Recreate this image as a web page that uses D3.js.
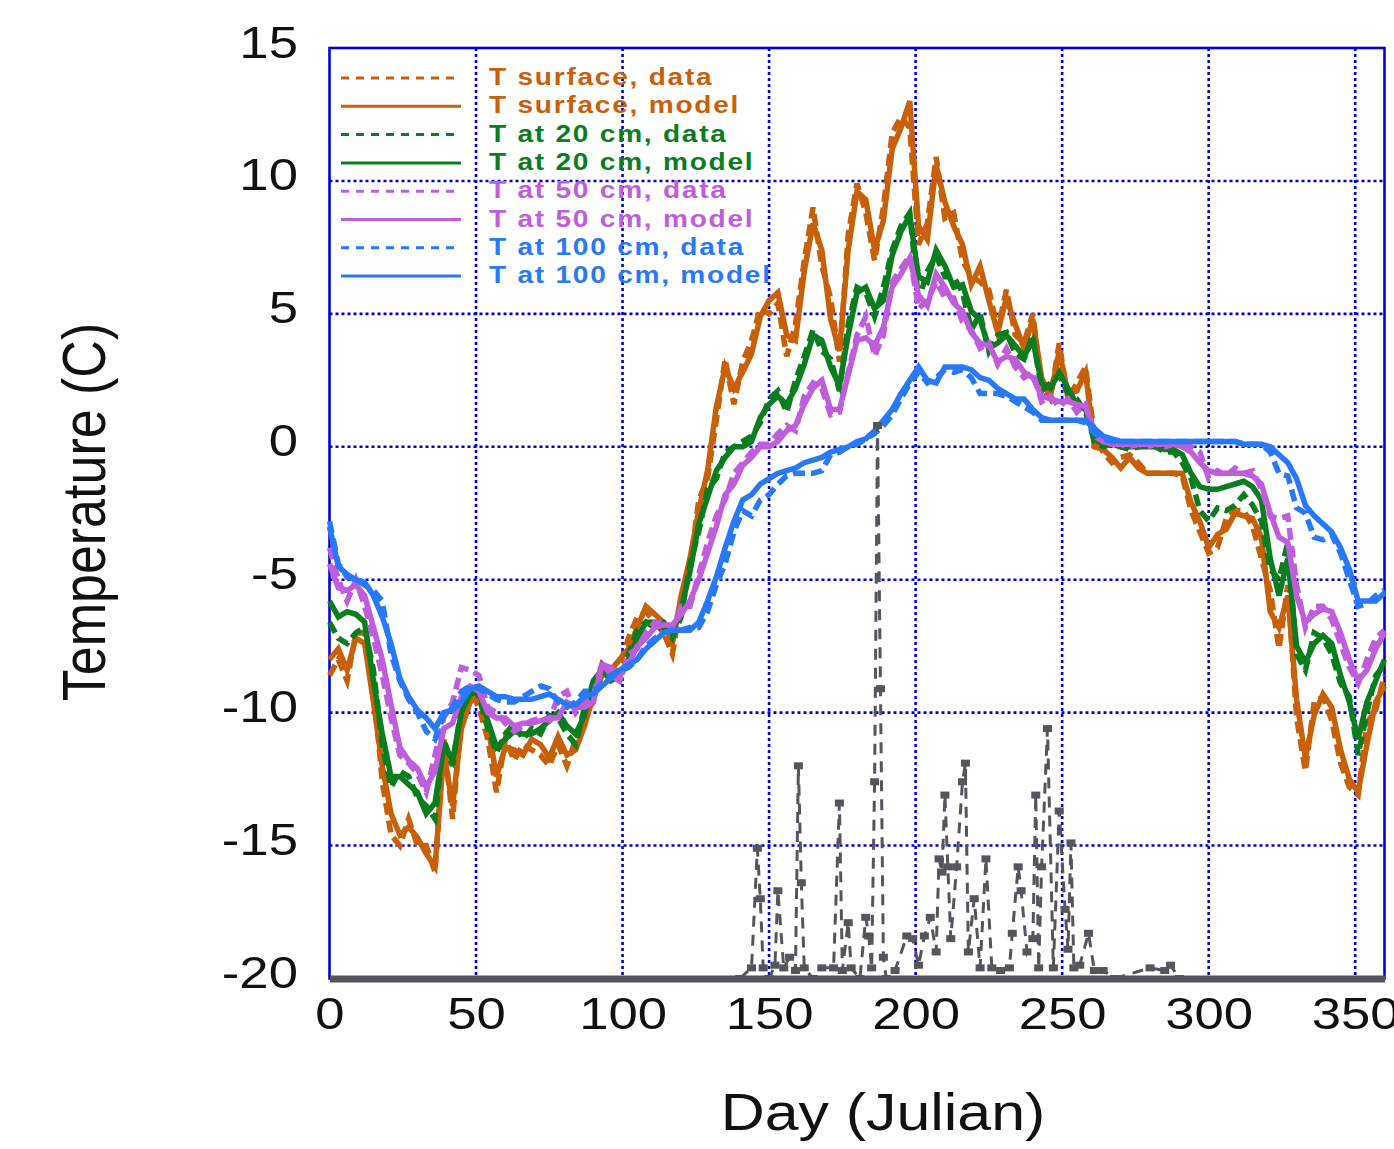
<!DOCTYPE html>
<html>
<head>
<meta charset="utf-8">
<title>Soil temperature, data and model</title>
<script src="https://cdn.jsdelivr.net/npm/d3@7"></script>
<style>
  body { margin: 0; background: #fff; }
  svg { display: block; }
</style>
</head>
<body>
<div id="chart"></div>
<script>
// Julian day of each temperature sample
const days = [
  0, 3, 6, 9, 12, 15, 18, 21, 24, 27,
  30, 33, 36, 39, 42, 45, 48, 51, 54, 57,
  60, 63, 66, 69, 72, 75, 78, 81, 84, 87,
  90, 93, 96, 99, 102, 105, 108, 111, 114, 117,
  120, 123, 126, 129, 132, 135, 138, 141, 144, 147,
  150, 153, 156, 159, 162, 165, 168, 171, 174, 177,
  180, 183, 186, 189, 192, 195, 198, 201, 204, 207,
  210, 213, 216, 219, 222, 225, 228, 231, 234, 237,
  240, 243, 246, 249, 252, 255, 258, 261, 264, 267,
  270, 273, 276, 279, 282, 285, 288, 291, 294, 297,
  300, 303, 306, 309, 312, 315, 318, 321, 324, 327,
  330, 333, 336, 339, 342, 345, 348, 351, 354, 357,
  360
];

const surfaceData = [
  -8.6, -8.0, -8.8, -7.0, -7.0, -9.0, -12.6, -14.6, -15.0, -14.0,
  -15.0, -15.0, -16.0, -11.0, -14.0, -10.2, -9.2, -9.8, -11.0, -13.0,
  -11.0, -11.8, -11.2, -11.4, -11.6, -12.0, -11.2, -12.0, -11.0, -10.2,
  -9.6, -8.2, -8.6, -8.2, -7.2, -6.4, -6.2, -6.6, -7.0, -7.8,
  -5.8, -4.6, -2.0, -1.2, 1.0, 3.3, 1.6, 3.2, 4.0, 5.2,
  5.0, 5.4, 3.4, 4.6, 7.0, 9.0, 6.8, 5.6, 3.2, 8.0,
  9.9, 8.8, 7.0, 9.0, 11.8, 12.4, 12.0, 7.6, 8.4, 10.9,
  8.6, 8.8, 7.0, 6.4, 6.2, 5.9, 4.4, 5.9, 4.2, 3.9,
  5.0, 2.2, 1.8, 3.9, 1.8, 2.4, 3.0, 0.4, -0.2, -0.6,
  -0.4, -0.3, -0.6, -1.0, -1.0, -1.0, -1.0, -1.1, -2.4, -3.2,
  -4.0, -3.8, -2.7, -2.4, -2.4, -3.0, -4.2, -5.4, -7.6, -5.2,
  -10.2, -12.2, -9.6, -9.4, -10.3, -11.9, -12.8, -13.1, -10.4, -9.9,
  -8.6
];
const surfaceModel = [
  -8.0, -7.6, -8.4, -7.2, -7.4, -9.6, -12.0, -13.8, -14.6, -14.3,
  -14.7, -15.3, -15.8, -11.5, -13.5, -10.6, -9.6, -9.4, -10.5, -12.4,
  -11.3, -11.4, -11.6, -11.0, -11.2, -11.7, -10.9, -11.6, -11.4, -10.5,
  -9.4, -8.6, -8.4, -8.0, -7.6, -6.8, -6.0, -6.3, -6.6, -7.4,
  -5.6, -4.2, -2.4, -0.9, 1.5, 3.0, 2.2, 2.8, 3.5, 4.9,
  5.5, 5.8, 4.2, 4.0, 6.6, 8.4, 7.4, 4.8, 3.6, 7.4,
  9.6, 9.3, 7.4, 8.5, 11.2, 12.0, 13.0, 8.3, 7.8, 10.6,
  9.2, 8.3, 7.6, 6.1, 6.8, 5.5, 4.3, 5.6, 4.6, 3.7,
  4.8, 2.6, 1.9, 3.6, 2.0, 2.1, 2.8, 0.0, -0.1, -0.4,
  -0.8, -0.4, -0.8, -1.0, -1.0, -1.0, -1.0, -1.0, -2.1, -2.8,
  -3.8, -3.3, -3.1, -2.5, -2.6, -2.7, -3.4, -6.2, -6.8, -5.6,
  -9.5, -11.7, -10.1, -9.3, -9.8, -11.4, -12.5, -13.0, -11.2, -9.6,
  -9.0
];

const cm20Data = [
  -6.6, -7.2, -7.4, -7.0, -6.8, -8.4, -11.2, -12.8, -12.2, -12.4,
  -13.2, -13.5, -14.0, -11.0, -12.0, -9.8, -9.0, -9.4, -10.6, -11.5,
  -10.8, -10.4, -11.0, -10.6, -10.8, -10.1, -10.2, -10.8, -11.2, -9.8,
  -9.0, -8.2, -8.6, -8.8, -7.8, -6.9, -6.6, -6.8, -6.8, -7.2,
  -6.4, -4.4, -3.2, -1.6, -1.2, -0.2, 0.0, 0.2, 0.4, 0.9,
  1.8, 2.1, 1.3, 2.5, 3.4, 4.4, 3.6, 3.3, 2.1, 4.6,
  6.0, 5.8, 4.9, 6.0, 7.4, 8.3, 8.8, 5.5, 6.6, 7.2,
  6.4, 6.4, 5.8, 4.4, 5.0, 3.6, 4.2, 4.3, 3.5, 3.3,
  4.2, 2.1, 2.4, 2.7, 2.0, 1.8, 1.3, 0.2, 0.0, 0.1,
  0.0, -0.1, 0.0, 0.1, 0.0, -0.2, -0.2, -0.6, -1.2, -2.4,
  -2.8, -2.3, -2.4, -2.2, -1.8, -2.2, -2.8, -4.6, -5.0, -3.6,
  -7.8, -8.4, -7.0, -7.2, -7.8, -8.9, -9.4, -11.6, -10.0, -8.6,
  -8.2
];
const cm20Model = [
  -5.8, -6.4, -6.2, -6.3, -6.6, -8.8, -10.8, -12.4, -12.4, -12.7,
  -13.0, -13.8, -13.4, -11.2, -11.8, -10.0, -9.3, -9.2, -10.3, -11.3,
  -11.0, -10.7, -10.8, -10.8, -10.6, -10.3, -10.0, -10.5, -10.8, -10.1,
  -8.8, -8.4, -8.8, -8.6, -8.0, -7.2, -6.6, -6.6, -6.6, -7.0,
  -6.1, -4.7, -2.9, -1.9, -0.9, -0.4, 0.0, 0.0, 0.2, 1.1,
  1.6, 1.9, 1.6, 2.2, 3.1, 4.2, 4.0, 3.0, 2.3, 4.2,
  5.8, 6.0, 5.2, 5.5, 7.2, 8.1, 8.7, 6.4, 6.2, 7.4,
  6.8, 6.0, 6.1, 5.1, 4.8, 3.7, 3.9, 4.2, 3.8, 3.4,
  4.0, 2.4, 2.2, 2.8, 2.2, 1.6, 1.4, 0.3, 0.1, 0.1,
  0.0, 0.0, 0.0, 0.0, 0.0, -0.1, -0.1, -0.3, -1.0, -1.5,
  -1.6, -1.6, -1.5, -1.4, -1.3, -1.5, -2.0, -4.2, -5.6, -4.2,
  -7.5, -8.1, -7.4, -7.1, -7.4, -8.6, -9.6, -11.0, -9.6, -8.8,
  -8.0
];

const cm50Data = [
  -3.8, -5.0, -5.8, -5.0, -6.0, -7.2, -8.6, -10.2, -11.6, -11.9,
  -12.3, -13.0, -11.6, -10.2, -9.6, -8.3, -8.4, -8.6, -9.8, -10.0,
  -10.4, -10.7, -10.5, -10.3, -10.2, -10.3, -9.4, -9.2, -10.0, -9.6,
  -9.4, -8.1, -8.6, -8.8, -7.8, -7.6, -7.0, -6.6, -6.6, -6.8,
  -6.0, -6.0, -4.8, -3.6, -2.6, -2.0, -1.0, -0.6, -0.2, 0.1,
  0.1, 0.5, 0.8, 0.6, 1.9, 2.4, 2.2, 1.2, 1.3, 2.8,
  4.2, 4.9, 3.4, 4.2, 6.2, 6.7, 7.2, 5.2, 5.5, 6.2,
  5.6, 5.6, 4.7, 4.4, 3.7, 3.9, 3.1, 3.7, 3.0, 2.6,
  2.8, 1.7, 1.9, 1.5, 1.8, 1.3, 1.6, 0.4, 0.2, 0.1,
  0.1, 0.0, 0.1, 0.0, 0.1, 0.0, 0.1, 0.0, 0.0, -0.2,
  -1.2, -0.9, -1.1, -0.8, -1.0, -0.9, -1.6, -2.6, -2.7, -2.6,
  -5.2, -6.8, -6.0, -6.0, -6.5, -7.4, -8.3, -8.9, -8.0, -7.2,
  -6.9
];
const cm50Model = [
  -4.4, -5.3, -5.4, -5.2, -5.6, -6.8, -8.0, -9.7, -11.3, -11.8,
  -12.1, -12.8, -12.2, -10.6, -10.4, -9.4, -9.0, -9.2, -10.0, -10.2,
  -10.2, -10.5, -10.4, -10.4, -10.3, -10.2, -10.2, -9.6, -9.8, -9.8,
  -9.6, -8.2, -8.3, -8.6, -8.2, -7.5, -7.2, -6.8, -6.7, -6.7,
  -6.3, -5.8, -5.0, -4.0, -3.0, -1.8, -1.4, -0.7, -0.4, 0.0,
  0.0, 0.2, 0.6, 0.8, 1.6, 2.2, 2.5, 1.4, 1.4, 2.7,
  4.0, 4.1, 3.8, 4.5, 6.0, 6.5, 7.1, 5.7, 5.3, 6.5,
  6.0, 5.4, 5.1, 4.3, 3.9, 3.8, 3.2, 3.4, 3.3, 2.8,
  2.6, 1.9, 1.8, 1.7, 1.7, 1.6, 1.5, 0.6, 0.2, 0.1,
  0.1, 0.1, 0.1, 0.1, 0.1, 0.1, 0.1, 0.0, -0.2, -0.6,
  -0.9, -1.0, -1.0, -1.0, -1.0, -1.1, -1.4, -2.5, -3.4, -3.6,
  -5.6, -6.6, -6.3, -6.1, -6.2, -7.0, -8.0, -8.8, -8.4, -7.6,
  -7.0
];

const cm100Data = [
  -2.8, -4.4, -4.9, -5.0, -5.2, -5.4, -5.8, -7.8, -8.8, -9.5,
  -10.0, -10.7, -11.0, -10.1, -9.8, -9.2, -9.0, -9.1, -9.3, -9.5,
  -9.6, -9.6, -9.4, -9.2, -9.0, -9.1, -9.6, -9.8, -9.6, -9.2,
  -9.2, -8.9, -8.6, -8.4, -8.3, -8.0, -7.5, -7.2, -7.0, -6.9,
  -6.9, -6.8, -6.8, -6.2, -5.2, -4.4, -3.2, -2.4, -2.6, -2.0,
  -1.8, -1.4, -1.1, -1.0, -1.0, -1.0, -0.9, -0.3, -0.2, 0.0,
  0.1, 0.3, 0.5, 0.8, 1.2, 1.8, 2.4, 2.8, 2.4, 2.6,
  2.9, 2.8, 2.9, 2.6, 2.0, 2.0, 2.0, 1.9, 1.7, 1.5,
  1.3, 1.0, 1.0, 1.0, 1.0, 1.0, 0.9, 0.5, 0.3, 0.2,
  0.2, 0.2, 0.2, 0.2, 0.2, 0.2, 0.2, 0.2, 0.2, 0.2,
  0.2, 0.2, 0.2, 0.2, 0.1, 0.1, 0.1, -0.2, -1.0, -1.1,
  -2.3, -2.5, -3.4, -3.5, -3.3, -4.0, -5.0, -6.0, -5.9, -5.6,
  -5.4
];
const cm100Model = [
  -3.0, -4.5, -4.8, -5.0, -5.1, -5.6, -6.4, -7.4, -8.7, -9.4,
  -9.9, -10.2, -10.6, -10.0, -9.9, -9.6, -9.1, -9.0, -9.2, -9.4,
  -9.4, -9.5, -9.5, -9.5, -9.4, -9.3, -9.5, -9.7, -9.7, -9.4,
  -9.3, -9.0, -8.7, -8.4, -8.2, -8.0, -7.6, -7.3, -7.0, -6.9,
  -6.9, -6.9, -6.6, -5.8, -4.9, -3.8, -2.8, -2.0, -1.8, -1.4,
  -1.2, -1.0, -0.9, -0.8, -0.6, -0.5, -0.4, -0.2, -0.1, 0.0,
  0.2, 0.3, 0.6, 1.0, 1.4, 2.0, 2.5, 3.0, 2.5, 2.4,
  3.0, 3.0, 3.0, 2.9, 2.6, 2.5, 2.2, 2.0, 1.8, 1.8,
  1.4, 1.1, 1.0, 1.0, 1.0, 1.0, 1.0, 0.7, 0.4, 0.3,
  0.2, 0.2, 0.2, 0.2, 0.2, 0.2, 0.2, 0.2, 0.2, 0.2,
  0.2, 0.2, 0.2, 0.2, 0.1, 0.1, 0.1, 0.0, -0.3, -0.6,
  -1.2, -2.2, -2.6, -2.9, -3.2, -3.8, -4.6, -5.8, -5.8, -5.8,
  -5.5
];

// unlabelled grey dashed series, drawn on the temperature axis
const grayDays = [
  140, 144, 146, 147, 148, 150, 152, 153, 155, 157,
  159, 160, 161, 162, 165, 168, 172, 174, 175, 177,
  178, 181, 183, 184, 185, 186, 187, 188, 189, 190,
  193, 197, 199, 201, 203, 205, 207, 208, 209, 210,
  211, 212, 214, 216, 217, 218, 220, 222, 224, 226,
  229, 232, 233, 235, 236, 238, 240, 241, 242, 243,
  245, 247, 249, 251, 252, 253, 254, 256, 259, 261,
  264, 268, 280, 285, 287, 290
];
const grayValues = [
  -20, -19.6, -15.1, -17.0, -19.6, -20, -19.5, -16.7, -19.6, -19.2,
  -19.7, -12.0, -16.4, -19.6, -20, -19.6, -19.6, -13.4, -19.7, -17.9,
  -19.6, -20, -17.7, -18.4, -19.6, -12.6, 0.8, -9.1, -19.2, -20,
  -19.7, -18.4, -18.5, -19.5, -18.4, -17.7, -19.0, -15.5, -16.0, -13.1,
  -15.8, -18.5, -15.8, -12.6, -11.9, -19.0, -17.0, -19.6, -15.5, -19.6,
  -19.7, -19.6, -18.3, -15.8, -16.7, -19.0, -18.5, -13.1, -19.6, -15.8,
  -10.6, -19.6, -13.7, -17.4, -18.9, -14.9, -19.6, -19.5, -18.3, -19.7,
  -19.7, -20, -19.6, -19.7, -19.5, -20
];

const xTicks = [0, 50, 100, 150, 200, 250, 300, 350];
const yTicks = [-20, -15, -10, -5, 0, 5, 10, 15];

const ORANGE = "#c8600a", GREEN = "#0a7d1e", PURPLE = "#c05ddc", BLUE = "#2878fa";
const GRAY = "#55555e", FRAME_BLUE = "#0000dc";
const FONT = "'Liberation Sans', Arial, Helvetica, sans-serif";
const STRETCH = 1.17; // the original picture is wider than it is tall

const series = [
  { label: "T surface, data", values: surfaceData, color: ORANGE, dashed: true },
  { label: "T surface, model", values: surfaceModel, color: ORANGE, dashed: false },
  { label: "T at 20 cm, data", values: cm20Data, color: GREEN, dashed: true },
  { label: "T at 20 cm, model", values: cm20Model, color: GREEN, dashed: false },
  { label: "T at 50 cm, data", values: cm50Data, color: PURPLE, dashed: true },
  { label: "T at 50 cm, model", values: cm50Model, color: PURPLE, dashed: false },
  { label: "T at 100 cm, data", values: cm100Data, color: BLUE, dashed: true },
  { label: "T at 100 cm, model", values: cm100Model, color: BLUE, dashed: false }
];

const width = 1394, height = 1149;

const x = d3.scaleLinear().domain([0, 360]).range([329.5, 1384.5]);
const y = d3.scaleLinear().domain([-20, 15]).range([978.5, 48]);

const svg = d3.select("#chart").append("svg")
    .attr("width", width)
    .attr("height", height)
    .style("font-family", FONT);

// dotted grid
const grid = svg.append("g")
    .attr("stroke", FRAME_BLUE)
    .attr("stroke-width", 2.6)
    .attr("stroke-dasharray", "3,3");

grid.selectAll("line.v")
    .data(xTicks.filter(d => d > 0))
    .enter().append("line")
    .attr("x1", d => x(d)).attr("x2", d => x(d))
    .attr("y1", y(15)).attr("y2", y(-20));

grid.selectAll("line.h")
    .data(yTicks.filter(d => d > -20 && d < 15))
    .enter().append("line")
    .attr("x1", x(0)).attr("x2", x(360))
    .attr("y1", d => y(d)).attr("y2", d => y(d));

// frame
svg.append("rect")
    .attr("x", x(0)).attr("y", y(15))
    .attr("width", x(360) - x(0)).attr("height", y(-20) - y(15))
    .attr("fill", "none")
    .attr("stroke", FRAME_BLUE)
    .attr("stroke-width", 2.6);

// legend
const legend = svg.append("g");
series.forEach((s, i) => {
    const cy = 77 + i * 28.3;
    legend.append("line")
        .attr("x1", 341).attr("x2", 461)
        .attr("y1", cy + 1).attr("y2", cy + 1)
        .attr("stroke", s.color)
        .attr("stroke-width", 3)
        .attr("stroke-dasharray", s.dashed ? "8,7" : null);
    legend.append("text")
        .attr("transform", `translate(489,${cy + 8}) scale(${STRETCH},1)`)
        .attr("fill", s.color)
        .attr("font-size", 24)
        .attr("font-weight", "bold")
        .attr("letter-spacing", 1.5)
        .text(s.label);
});

// temperature series
const line = d3.line()
    .x((d, i) => x(days[i]))
    .y(d => y(d));

svg.append("g")
    .attr("fill", "none")
    .attr("stroke-linejoin", "miter")
    .selectAll("path")
    .data(series)
    .enter().append("path")
    .attr("d", d => line(d.values))
    .attr("stroke", d => d.color)
    .attr("stroke-width", 5.5)
    .attr("stroke-dasharray", d => d.dashed ? "12,6" : null);

// x axis: thick grey base line with labels (plain hyphen minus like the original)
const plain = d => String(d);

const xAxis = svg.append("g")
    .attr("transform", `translate(0,${y(-20)})`)
    .call(d3.axisBottom(x).tickValues(xTicks).tickFormat(plain)
        .tickSize(0).tickSizeOuter(0).tickPadding(18.5));
xAxis.select(".domain")
    .attr("stroke", GRAY)
    .attr("stroke-width", 7);
xAxis.selectAll("text")
    .attr("transform", `scale(${STRETCH},1)`)
    .attr("font-size", 45)
    .attr("font-family", FONT)
    .attr("fill", "#111");

const yAxis = svg.append("g")
    .attr("transform", `translate(${x(0)},0)`)
    .call(d3.axisLeft(y).tickValues(yTicks).tickFormat(plain)
        .tickSize(0).tickPadding(27));
yAxis.select(".domain").remove();
yAxis.selectAll("text")
    .attr("transform", `scale(${STRETCH},1)`)
    .attr("dy", "0.2em")
    .attr("font-size", 45)
    .attr("font-family", FONT)
    .attr("fill", "#111");

// grey dashed series with square markers
const gray = grayDays.map((d, i) => ({ day: d, value: grayValues[i] }));

svg.append("path")
    .datum(gray)
    .attr("fill", "none")
    .attr("stroke", GRAY)
    .attr("stroke-width", 3)
    .attr("stroke-dasharray", "11,8")
    .attr("d", d3.line().x(d => x(d.day)).y(d => y(d.value)));

svg.append("g")
    .attr("fill", GRAY)
    .selectAll("rect")
    .data(gray)
    .enter().append("rect")
    .attr("x", d => x(d.day) - 4.5)
    .attr("y", d => y(d.value) - 3.5)
    .attr("width", 9)
    .attr("height", 7);

// axis titles
svg.append("text")
    .attr("transform", `translate(883,1130) scale(${STRETCH},1)`)
    .attr("text-anchor", "middle")
    .attr("font-size", 52)
    .attr("fill", "#111")
    .text("Day (Julian)");

svg.append("text")
    .attr("transform", `translate(105,512) scale(${STRETCH},1) rotate(-90)`)
    .attr("text-anchor", "middle")
    .attr("font-size", 52)
    .attr("fill", "#111")
    .text("Temperature (C)");
</script>
</body>
</html>
